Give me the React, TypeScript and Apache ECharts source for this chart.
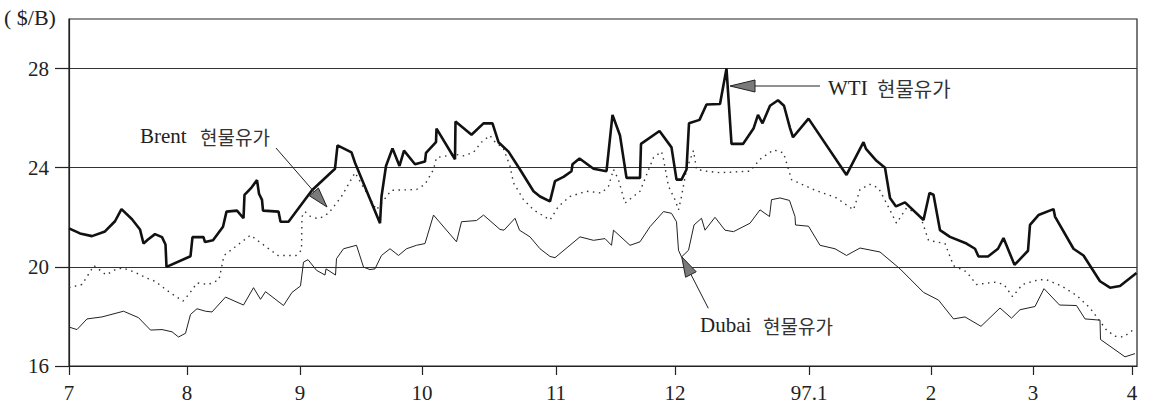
import React, { useEffect, useRef } from "react";
import * as echarts from "echarts";

// x = trading-day index from the start of July 1996; month boundaries below
const monthPos = [0, 23.6, 46.2, 70.6, 97.4, 121.2, 148, 172.4, 192.8, 212.6];
const monthLabels = ["7", "8", "9", "10", "11", "12", "97.1", "2", "3", "4"];
const yTicks = [16, 20, 24, 28];

const wti = [[0,21.55],[2.2,21.35],[4.6,21.24],[7.2,21.43],[9.2,21.84],[10.5,22.33],[12.6,21.92],[14.2,21.51],[14.9,20.94],[15.8,21.1],[17.2,21.32],[18.6,21.2],[19.3,20.9],[19.5,20.0],[24.3,20.43],[24.7,21.2],[26.9,21.2],[27.2,21.0],[28.8,21.07],[30.8,21.62],[31.5,22.23],[33.6,22.27],[34.9,21.96],[35.1,22.9],[36.5,23.2],[37.6,23.5],[38.0,22.95],[38.6,22.7],[38.8,22.27],[41.9,22.23],[42.3,21.82],[43.9,21.82],[48.6,23.09],[53.2,23.96],[53.7,24.9],[56.5,24.62],[57.2,24.2],[62.2,21.76],[62.5,22.84],[63.4,24.07],[64.7,24.78],[66.1,24.07],[67.0,24.69],[69.2,24.14],[71.2,24.25],[71.4,24.6],[73.4,25.03],[73.5,25.58],[77.2,24.34],[77.3,25.86],[80.5,25.33],[82.9,25.79],[84.7,25.79],[85.9,25.03],[87.9,24.65],[90.2,23.93],[92.9,23.05],[94.2,22.84],[96.2,22.64],[97.2,23.46],[98.9,23.63],[100.5,23.86],[100.7,24.14],[102.1,24.37],[104.9,23.96],[107.5,23.86],[108.7,26.13],[110.2,25.3],[111.5,23.59],[114.2,23.59],[114.4,24.96],[118.1,25.48],[120.5,24.82],[121.5,23.52],[122.5,23.52],[123.5,23.93],[124.0,25.79],[126.1,25.93],[127.5,26.55],[130.2,26.57],[131.5,28.0],[132.5,24.96],[134.8,24.96],[136.9,25.58],[137.8,26.13],[138.7,25.79],[140.2,26.5],[141.8,26.72],[143.0,26.5],[144.2,25.6],[144.8,25.23],[147.9,25.98],[155.5,23.71],[158.9,25.03],[159.4,24.76],[161.5,24.28],[163.2,24.0],[164.2,22.78],[165.4,22.44],[167.2,22.6],[170.9,21.89],[172.1,22.98],[172.9,22.91],[174.2,21.48],[176.2,21.21],[179.5,20.94],[181.2,20.73],[181.9,20.42],[183.8,20.42],[185.8,20.73],[186.9,21.16],[189.1,20.08],[191.8,20.65],[192.2,21.69],[193.9,22.09],[196.9,22.33],[197.2,22.03],[200.9,20.73],[202.9,20.46],[206.2,19.42],[208.2,19.16],[210.2,19.23],[213.5,19.75]];

const brent = [[0,19.16],[2.6,19.29],[5.0,20.05],[7.4,19.68],[9.6,19.92],[10.8,19.95],[13.0,19.8],[15.6,19.54],[17.2,19.42],[19.6,19.05],[20.6,18.91],[22.8,18.62],[24.0,18.9],[25.6,19.35],[27.9,19.29],[30.0,19.48],[31.0,20.46],[33.2,20.8],[36.3,21.28],[39.0,20.87],[41.8,20.46],[45.4,20.46],[46.5,20.67],[46.6,22.03],[47.2,22.23],[48.2,22.05],[49.5,21.96],[50.2,21.96],[51.9,22.16],[54.5,22.84],[57.2,23.8],[61.5,22.3],[63.5,22.84],[64.5,23.09],[69.5,23.12],[71.2,23.33],[72.9,23.93],[73.5,24.41],[75.5,24.48],[77.2,24.54],[78.9,24.48],[80.9,24.62],[82.5,25.03],[84.2,25.3],[84.9,25.1],[86.9,24.76],[88.2,24.07],[88.9,23.39],[90.9,22.71],[92.9,22.3],[96.2,21.89],[97.9,22.44],[100.2,22.84],[103.5,23.05],[106.5,22.98],[107.9,23.25],[108.9,23.93],[109.9,23.52],[111.2,22.57],[112.5,22.78],[114.2,23.05],[116.9,24.41],[118.5,24.65],[118.9,24.34],[119.9,23.25],[121.2,22.71],[121.9,22.3],[122.5,22.84],[123.5,23.93],[124.9,24.69],[125.5,23.93],[127.5,23.86],[130.2,23.8],[136.2,23.86],[138.2,24.34],[140.9,24.72],[142.9,24.6],[143.5,24.2],[144.5,23.52],[148.9,23.12],[153.5,22.78],[156.9,22.3],[158.2,23.12],[160.2,23.33],[161.9,23.18],[163.5,22.57],[165.5,21.76],[167.5,22.37],[170.2,22.09],[171.9,21.07],[175.2,20.94],[176.9,20.05],[179.5,19.8],[181.5,19.29],[185.2,19.38],[187.0,19.29],[188.7,18.8],[190.7,19.29],[193.9,19.48],[195.5,19.48],[198.5,19.23],[201.5,18.85],[204.2,18.34],[207.5,17.45],[209.2,17.2],[210.9,17.17],[213.2,17.51]];

const dubai = [[0,17.57],[1.6,17.47],[3.6,17.9],[6.6,17.98],[10.9,18.21],[13.9,17.95],[16.3,17.45],[18.6,17.47],[20.6,17.38],[21.9,17.17],[23.3,17.32],[24.3,18.08],[25.6,18.31],[27.3,18.21],[28.6,18.18],[31.3,18.78],[34.9,18.46],[36.9,19.16],[38.3,18.69],[39.3,19.0],[42.9,18.44],[44.6,18.97],[46.3,19.23],[46.9,20.19],[47.8,20.29],[49.5,19.86],[51.2,19.67],[51.4,19.92],[53.3,19.67],[53.5,20.33],[54.9,20.73],[57.5,20.87],[58.9,19.99],[60.2,19.89],[61.2,19.92],[62.5,20.46],[64.2,20.73],[65.9,20.46],[67.5,20.73],[69.5,20.87],[71.2,20.94],[72.9,22.09],[77.5,21.01],[78.5,21.82],[81.5,21.87],[82.9,22.09],[86.2,21.51],[87.0,21.48],[89.2,21.96],[90.1,21.48],[92.2,21.21],[94.2,20.73],[96.2,20.42],[97.2,20.37],[102.2,21.21],[104.9,21.07],[107.2,21.14],[108.5,20.87],[108.9,21.48],[112.2,20.87],[114.2,21.01],[116.2,21.62],[118.9,22.23],[120.5,22.16],[121.5,21.82],[121.9,20.67],[122.5,20.4],[123.9,20.67],[125.0,21.69],[126.5,21.96],[127.2,21.48],[129.2,22.0],[131.2,21.48],[132.9,21.42],[136.2,21.76],[138.2,22.3],[140.1,22.03],[140.5,22.71],[142.2,22.78],[144.1,22.68],[145.2,22.03],[145.3,21.69],[147.9,21.64],[150.2,20.87],[153.2,20.73],[155.5,20.46],[158.2,20.76],[162.2,20.6],[166.2,19.92],[170.9,18.97],[173.9,18.66],[176.9,17.9],[179.2,17.98],[182.4,17.6],[186.2,18.34],[188.5,17.93],[190.2,18.27],[193.2,18.4],[195.0,19.12],[198.1,18.46],[201.5,18.44],[203.2,17.9],[206.2,17.85],[206.3,17.07],[211.2,16.37],[213.2,16.5]];

const SERIF = "Liberation Serif, DejaVu Serif, serif";
const KR = "Noto Sans CJK KR, sans-serif";
const INK = "#222";

export default function App() {
  const ref = useRef<HTMLDivElement>(null);
  useEffect(() => {
    if (!ref.current) return;
    const chart = echarts.init(ref.current, undefined, { renderer: "svg" });
    const labelFont = { fontFamily: SERIF, fontSize: 21, color: INK };
    const head = { fill: "#7a7a7a", stroke: INK, lineWidth: 1 };
    const txt = (x: number, y: number, text: string, family: string, size: number, fill = INK) => ({
      type: "text", x, y, z: 100,
      style: { text, fontFamily: family, fontSize: size, fill, verticalAlign: "middle", align: "left" },
    });
    chart.setOption({
      animation: false,
      backgroundColor: "#fff",
      grid: {
        left: 69, right: 12, top: 19, bottom: 45,
        show: true, borderColor: INK, borderWidth: 1.2, backgroundColor: "transparent",
      },
      xAxis: {
        type: "value", min: 0, max: 213.6,
        axisLine: { show: true, lineStyle: { color: INK, width: 1.2 } },
        axisTick: { show: true, customValues: monthPos, length: 9, lineStyle: { color: INK, width: 1.2 } },
        axisLabel: {
          ...labelFont, margin: 16, customValues: monthPos,
          formatter: (v: number) => {
            const i = monthPos.findIndex((p) => Math.abs(p - v) < 0.01);
            return i >= 0 ? monthLabels[i] : "";
          },
        },
        splitLine: { show: false },
      },
      yAxis: {
        type: "value", min: 16, max: 30, interval: 4,
        axisLine: { show: true, lineStyle: { color: INK, width: 1.2 } },
        axisTick: { show: true, customValues: yTicks, length: 14, lineStyle: { color: INK, width: 1.2 } },
        axisLabel: { ...labelFont, margin: 20, customValues: yTicks },
        splitLine: { show: true, lineStyle: { color: "#333", width: 1 } },
      },
      series: [
        { name: "Dubai", type: "line", data: dubai, showSymbol: false, lineStyle: { color: INK, width: 1 }, z: 3 },
        { name: "Brent", type: "line", data: brent, showSymbol: false, lineStyle: { color: "#333", width: 1.4, type: [1.5, 4.5] }, z: 4 },
        { name: "WTI", type: "line", data: wti, showSymbol: false, lineStyle: { color: "#111", width: 2.6 }, z: 5 },
      ],
      graphic: [
        txt(4, 17, "( $/B)", SERIF, 22),
        txt(140, 136, "Brent", SERIF, 21),
        txt(200, 136, "현물유가", KR, 19, "#333"),
        { type: "line", z: 100, shape: { x1: 276, y1: 148, x2: 316, y2: 194 }, style: { stroke: INK, lineWidth: 1 } },
        { type: "polygon", z: 101, shape: { points: [[327, 207], [309.4, 195.8], [318.4, 188]] }, style: head },
        txt(828, 88, "WTI", SERIF, 21),
        txt(877, 88, "현물유가", KR, 20, "#333"),
        { type: "line", z: 100, shape: { x1: 754, y1: 86, x2: 820, y2: 86 }, style: { stroke: INK, lineWidth: 1 } },
        { type: "polygon", z: 101, shape: { points: [[730, 86], [755, 80], [755, 92]] }, style: head },
        txt(700, 325, "Dubai", SERIF, 21),
        txt(763, 325, "현물유가", KR, 19, "#333"),
        { type: "line", z: 100, shape: { x1: 708.3, y1: 308.3, x2: 691, y2: 274.5 }, style: { stroke: INK, lineWidth: 1 } },
        { type: "polygon", z: 101, shape: { points: [[681.7, 256.7], [696.2, 271.8], [685.6, 277.2]] }, style: head },
      ],
    });
    return () => chart.dispose();
  }, []);
  return (
    <div
      ref={ref}
      style={{ position: "absolute", left: 0, top: 0, width: 1149, height: 411, background: "#fff" }}
    />
  );
}
